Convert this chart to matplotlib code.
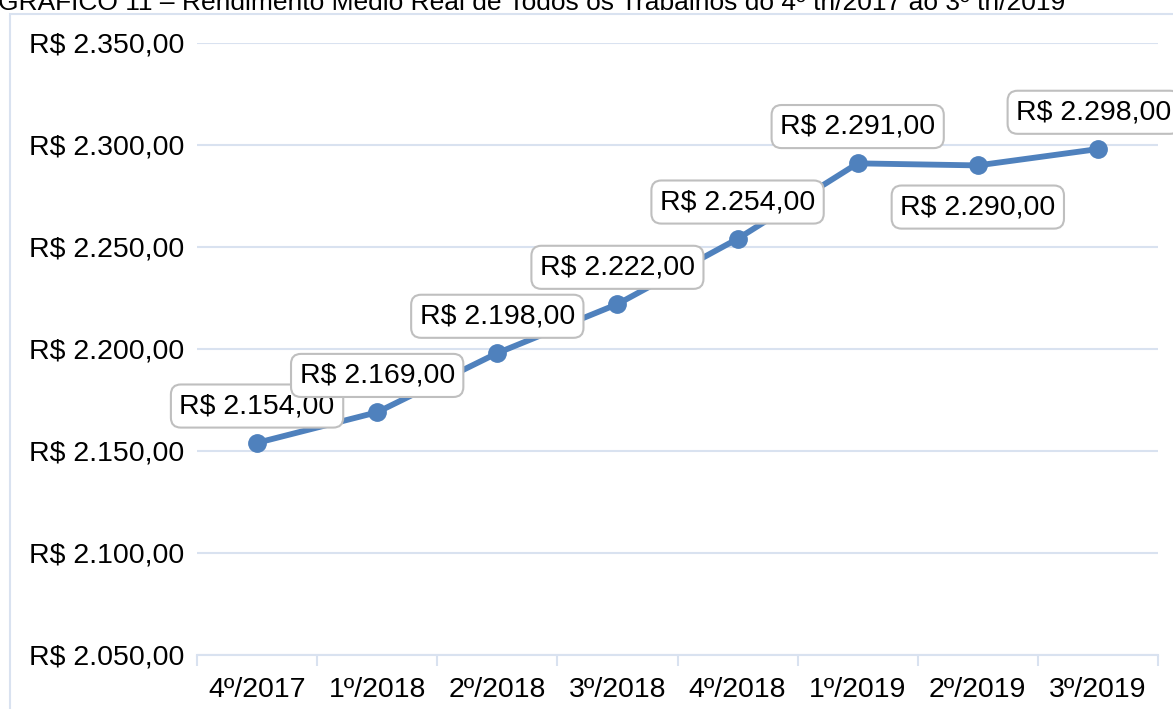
import matplotlib
matplotlib.use('Agg')
import matplotlib.pyplot as plt
from matplotlib.patches import Rectangle

plt.rcParams['font.family'] = ['Liberation Sans', 'DejaVu Sans']

# data
periods = ['4º/2017', '1º/2018', '2º/2018', '3º/2018', '4º/2018', '1º/2019', '2º/2019', '3º/2019']
income = [2154, 2169, 2198, 2222, 2254, 2291, 2290, 2298]
label_below = [False, False, False, False, False, False, True, False]
y_ticks = [2050, 2100, 2150, 2200, 2250, 2300, 2350]


def brl(v):
    s = f'{v:,.2f}'.replace(',', 'X').replace('.', ',').replace('X', '.')
    return 'R$ ' + s


W, H = 1173, 709
fig = plt.figure(figsize=(W / 100, H / 100), dpi=100)
ax = fig.add_axes([197 / W, 1 - 655 / H, (1158 - 197) / W, (655 - 43) / H])

grid_c = '#D9E2F0'
line_c = '#4F81BD'

# outer chart frame (partly cut off like the original)
fig.patches.append(Rectangle((10 / W, -0.05), 1.2, 1 - 14 / H + 0.05,
                             transform=fig.transFigure, fill=False,
                             edgecolor=grid_c, linewidth=1.5))

x = list(range(len(periods)))
ax.plot(x, income, color=line_c, linewidth=4.2, marker='o', markersize=12.5,
        solid_capstyle='round', zorder=3)

for i, (xi, v, below) in enumerate(zip(x, income, label_below)):
    dy = -30 if below else 26.5
    dx = -3 if i == len(x) - 1 else 0
    ax.annotate(brl(v), (xi, v), xytext=(dx, dy), textcoords='offset points',
                ha='center', va='center', fontsize=20.5, color='black',
                bbox=dict(boxstyle='round,pad=0.3,rounding_size=0.35',
                          facecolor='white', edgecolor='#BFBFBF', linewidth=1.5),
                zorder=4, annotation_clip=False)

ax.set_xlim(-0.5, len(periods) - 0.5)
ax.set_ylim(2050, 2350)
ax.set_yticks(y_ticks)
ax.set_yticklabels([brl(v) for v in y_ticks])
ax.set_xticks(x)
ax.set_xticklabels(periods)
ax.set_xticks([i - 0.5 for i in range(len(periods) + 1)], minor=True)

ax.tick_params(axis='both', which='major', length=0, labelsize=20.5)
ax.tick_params(axis='y', pad=9)
ax.tick_params(axis='x', pad=16)
ax.tick_params(axis='x', which='minor', length=8, width=1.5, color=grid_c)
ax.tick_params(axis='y', which='minor', length=0)

ax.grid(axis='y', color=grid_c, linewidth=1.5)
ax.set_axisbelow(True)
for side in ['top', 'right', 'left']:
    ax.spines[side].set_visible(False)
ax.spines['bottom'].set_color(grid_c)
ax.spines['bottom'].set_linewidth(1.5)

fig.text(-0.002, 1 - 10.5 / H,
         'GRÁFICO 11 – Rendimento Médio Real de Todos os Trabalhos do 4º tri/2017 ao 3º tri/2019',
         fontsize=19, ha='left', va='baseline', color='black')

fig.savefig('out.png', dpi=100)
